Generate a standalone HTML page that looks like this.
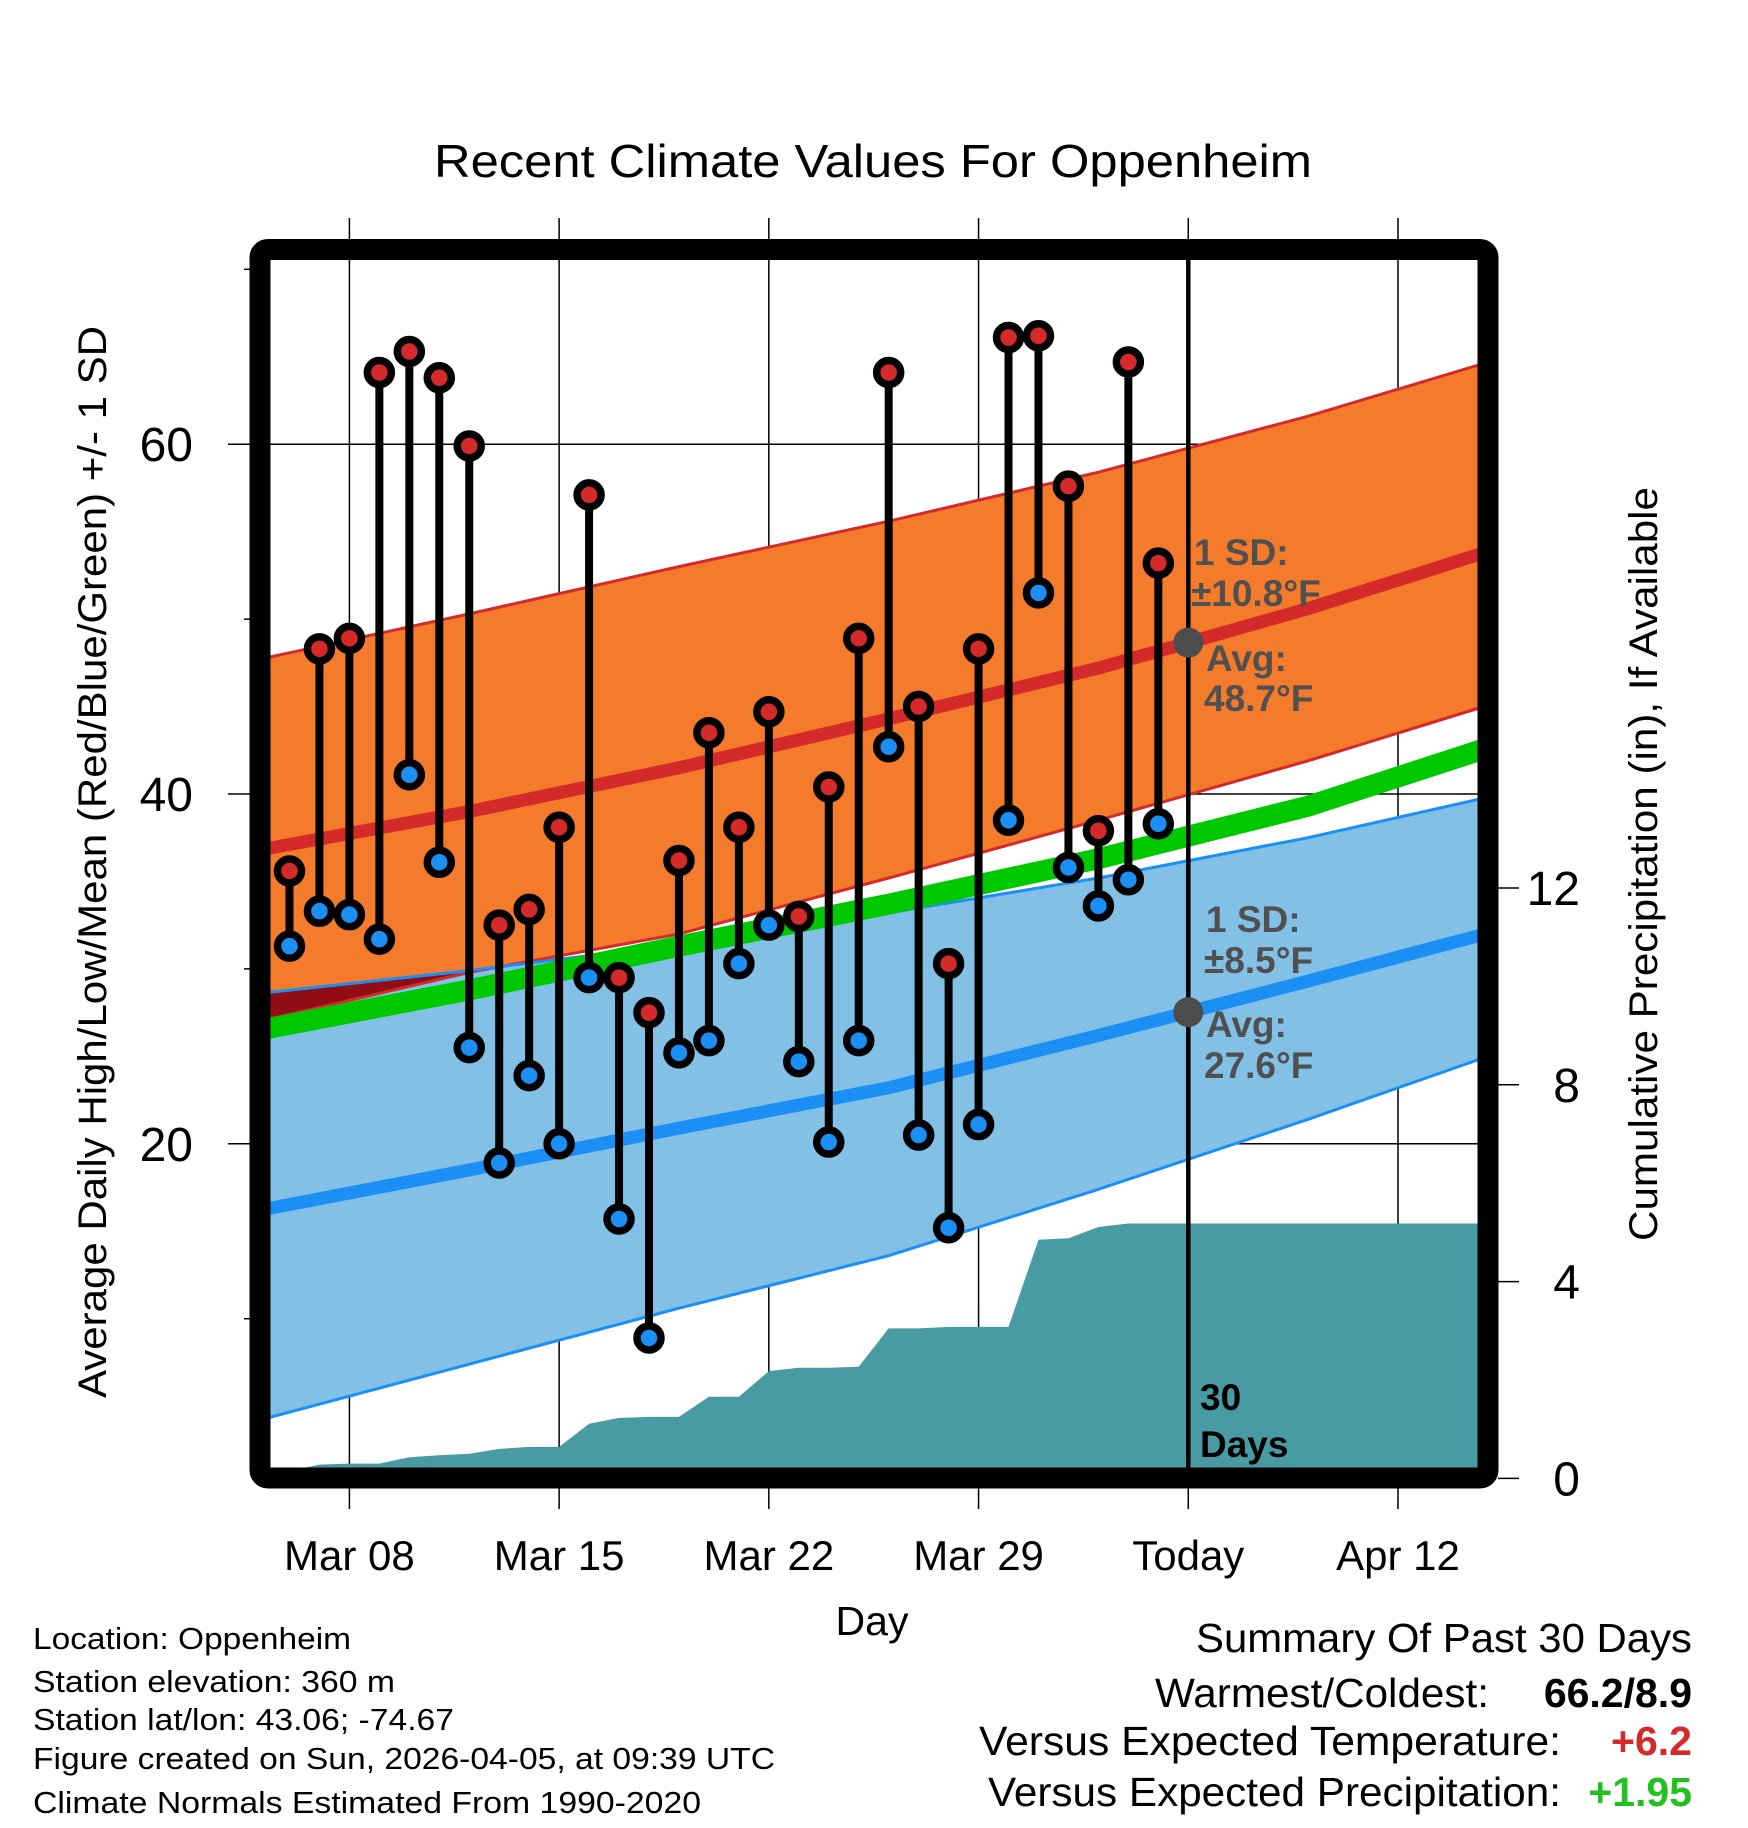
<!DOCTYPE html>
<html><head><meta charset="utf-8"><style>
html,body{margin:0;padding:0;background:#fff;}
svg{display:block;font-family:"Liberation Sans",Arial,sans-serif;}
</style></head><body>
<svg id="chart" width="1748" height="1828" viewBox="0 0 1748 1828">
<defs><clipPath id="plotclip"><rect x="270" y="260" width="1208" height="1208"/></clipPath></defs>
<text x="873" y="177" text-anchor="middle" font-size="46" textLength="878" lengthAdjust="spacingAndGlyphs">Recent Climate Values For Oppenheim</text>
<g id="grid"></g>
<g id="plot" clip-path="url(#plotclip)"></g>
<rect x="260" y="249.5" width="1228" height="1228.5" rx="8" fill="none" stroke="#000" stroke-width="21"/>
<g id="axes"></g>
<text transform="translate(106,862) rotate(-90)" text-anchor="middle" font-size="40" textLength="1072" lengthAdjust="spacingAndGlyphs">Average Daily High/Low/Mean (Red/Blue/Green) +/- 1 SD</text>
<text transform="translate(1657,864) rotate(-90)" text-anchor="middle" font-size="40" textLength="754" lengthAdjust="spacingAndGlyphs">Cumulative Precipitation (in), If Available</text>
<text x="872" y="1635" text-anchor="middle" font-size="41">Day</text>
<g font-size="31">
<text x="33" y="1649" textLength="318" lengthAdjust="spacingAndGlyphs">Location: Oppenheim</text>
<text x="33" y="1692" textLength="362" lengthAdjust="spacingAndGlyphs">Station elevation: 360 m</text>
<text x="33" y="1730" textLength="421" lengthAdjust="spacingAndGlyphs">Station lat/lon: 43.06; -74.67</text>
<text x="33" y="1769" textLength="742" lengthAdjust="spacingAndGlyphs">Figure created on Sun, 2026-04-05, at 09:39 UTC</text>
<text x="33" y="1813" textLength="668" lengthAdjust="spacingAndGlyphs">Climate Normals Estimated From 1990-2020</text>
</g>
<g font-size="41">
<text x="1196" y="1652" textLength="496" lengthAdjust="spacingAndGlyphs">Summary Of Past 30 Days</text>
<text x="1155" y="1707" textLength="334" lengthAdjust="spacingAndGlyphs">Warmest/Coldest:</text>
<text x="1692" y="1707" text-anchor="end" font-weight="bold">66.2/8.9</text>
<text x="979" y="1755" textLength="582" lengthAdjust="spacingAndGlyphs">Versus Expected Temperature:</text>
<text x="1692" y="1755" text-anchor="end" font-weight="bold" fill="#d42a2a">+6.2</text>
<text x="988" y="1806" textLength="573" lengthAdjust="spacingAndGlyphs">Versus Expected Precipitation:</text>
<text x="1692" y="1806" text-anchor="end" font-weight="bold" fill="#22c020">+1.95</text>
</g>
</svg>
<script>
// day offsets relative to Mar 08 (day 0)
const obsDays = [-2,-1,0,1,2,3,4,5,6,7,8,9,10,11,12,13,14,15,16,17,18,19,20,21,22,23,24,25,26,27];
const highs = [35.6,48.3,48.9,64.1,65.3,63.8,59.9,32.5,33.4,38.1,57.1,29.5,27.5,36.2,43.5,38.1,44.7,33.0,40.4,48.9,64.1,45.0,30.3,48.3,66.1,66.2,57.6,37.9,64.7,53.2];
const lows = [31.3,33.3,33.1,31.7,41.1,36.1,25.5,18.9,23.9,20.0,29.5,15.7,8.9,25.2,25.9,30.3,32.5,24.7,20.1,25.9,42.7,20.5,15.2,21.1,38.5,51.5,35.8,33.6,35.1,38.3];
const precip = [0.15,0.28,0.30,0.30,0.43,0.47,0.50,0.60,0.64,0.64,1.11,1.23,1.25,1.25,1.66,1.66,2.18,2.25,2.25,2.27,3.05,3.05,3.08,3.08,3.08,4.85,4.88,5.11,5.18,5.18];
const normDays = [-3,4,11,18,25,32,39];
const highAvg = [36.8,39.0,41.5,44.3,47.2,50.6,54.4];
const highUpper = [47.7,50.3,53.0,55.6,58.4,61.6,65.2];
const highLower = [27.0,29.8,32.0,35.2,38.5,41.9,45.6];
const lowAvg = [16.2,18.5,20.9,23.2,26.2,29.3,32.5];
const lowUpper = [28.6,29.9,31.4,33.2,35.2,37.5,40.2];
const lowLower = [4.2,7.4,10.6,13.6,17.4,21.4,25.6];
const meanLine = [26.5,28.8,31.3,33.7,36.3,39.3,43.2];
const xTickDays = [0,7,14,21,28,35];
const xTickLabels = ["Mar 08","Mar 15","Mar 22","Mar 29","Today","Apr 12"];
const yTicks = [20,40,60];
const yMinor = [10,30,50,70];
const y2Ticks = [0,4,8,12];
const todayDay = 28;

const NS="http://www.w3.org/2000/svg";
const X = d => 349.4 + d*29.96;
const Y = t => 444.2 + (60 - t)*17.49;
const Y2 = p => 1478.4 - p*49.2;
function mk(tag, attrs, parent){const e=document.createElementNS(NS,tag);for(const k in attrs)e.setAttribute(k,attrs[k]);parent.appendChild(e);return e;}
const plot=document.getElementById('plot'), grid=document.getElementById('grid'), axes=document.getElementById('axes');
const pts = arr => normDays.map((d,i)=>X(d).toFixed(1)+','+Y(arr[i]).toFixed(1));
function band(up, lo, fill, name){
  const p = pts(up).concat(pts(lo).reverse()).join(' ');
  const e = mk('polygon',{points:p,fill:fill},plot);
  
  
}
function line(arr, color, w, name){
  const e = mk('polyline',{points:pts(arr).join(' '),fill:'none',stroke:color,'stroke-width':w},plot);
  
  
}
// precipitation area
{
  let p = [X(-3)+','+Y2(0), X(-3)+','+Y2(precip[0])];
  obsDays.forEach((d,i)=>p.push(X(d)+','+Y2(precip[i])));
  p.push(X(40)+','+Y2(precip[precip.length-1]), X(40)+','+Y2(0));
  const e = mk('polygon',{points:p.join(' '),fill:'#489ba3'},plot);
  
  
}
band(highUpper, highLower, '#f47a2c', 'high-sd-band');
band(lowUpper, lowLower, '#82c0e6', 'low-sd-band');
// overlap region
{
  const up=[], lo=[];
  normDays.forEach((d,i)=>{ up.push(Math.max(lowUpper[i],highLower[i])); lo.push(highLower[i]); });
  band(up, lo, '#910f14', 'band-overlap');
}
line(highUpper,'#d42a2a',3,'high-sd-upper-line');
line(highLower,'#d42a2a',3,'high-sd-lower-line');
line(lowUpper,'#1c8ff5',3,'low-sd-upper-line');
line(lowLower,'#1c8ff5',3,'low-sd-lower-line');
line(meanLine,'#00c800',21,'mean-line');
line(highAvg,'#d42a2a',13,'high-avg-line');
line(lowAvg,'#1c8ff5',13,'low-avg-line');
// gridlines
yTicks.forEach(t=>{
  const e=mk('line',{x1:228,x2:1478,y1:Y(t),y2:Y(t),stroke:'#000','stroke-width':1.5},grid);
  
  
  const l=mk('text',{x:193,y:Y(t)+17,'text-anchor':'end','font-size':48},axes); l.textContent=t;
  
  
});
yMinor.forEach(t=>{
  const e=mk('line',{x1:244,x2:252,y1:Y(t),y2:Y(t),stroke:'#000','stroke-width':1.5},grid);
  
  
});
xTickDays.forEach((d,i)=>{
  const e=mk('line',{x1:X(d),x2:X(d),y1:218,y2:1509,stroke:'#000','stroke-width':1.5},grid);
  
  
  const l=mk('text',{x:X(d),y:1570,'text-anchor':'middle','font-size':42},axes); l.textContent=xTickLabels[i];
  
  
});
y2Ticks.forEach(p=>{
  const e=mk('line',{x1:1498,x2:1519,y1:Y2(p),y2:Y2(p),stroke:'#000','stroke-width':1.5},axes);
  
  
  const l=mk('text',{x:1580,y:Y2(p)+17,'text-anchor':'end','font-size':48},axes); l.textContent=p;
  
  
});
// today line
{
  const e=mk('line',{x1:X(todayDay),x2:X(todayDay),y1:260,y2:1468,stroke:'#000','stroke-width':4.5},plot);
  
  
}
// stems and points
obsDays.forEach((d,i)=>{
  const g=mk('g',{},plot);
  
  
  mk('line',{x1:X(d),x2:X(d),y1:Y(highs[i]),y2:Y(lows[i]),stroke:'#000','stroke-width':8},g);
  const lo=mk('circle',{cx:X(d),cy:Y(lows[i]),r:12,fill:'#1c8ff5',stroke:'#000','stroke-width':7.5},g);
  
  
  const hi=mk('circle',{cx:X(d),cy:Y(highs[i]),r:12,fill:'#d42a2a',stroke:'#000','stroke-width':7.5},g);
  
  
});
// today avg markers
function interp(arr,d){for(let i=0;i<normDays.length-1;i++){if(d>=normDays[i]&&d<=normDays[i+1]){const f=(d-normDays[i])/(normDays[i+1]-normDays[i]);return arr[i]+f*(arr[i+1]-arr[i]);}}return arr[arr.length-1];}
[[highAvg,'today-high-avg-marker'],[lowAvg,'today-low-avg-marker']].forEach(([arr,n])=>{
  const c=mk('circle',{cx:X(todayDay),cy:Y(interp(arr,todayDay)),r:15,fill:'#4d4d4d'},plot);
  
  
});
// annotations
const ann=[["1 SD:",1194,565,'#505050'],["±10.8°F",1191,606,'#505050'],["Avg:",1206,671,'#505050'],["48.7°F",1204,711,'#505050'],
["1 SD:",1206,932,'#505050'],["±8.5°F",1204,973,'#505050'],["Avg:",1206,1037,'#505050'],["27.6°F",1204,1078,'#505050'],
["30",1200,1410,'#000'],["Days",1200,1457,'#000']];
ann.forEach(a=>{
  const t=mk('text',{x:a[1],y:a[2],'font-size':37,'font-weight':'bold',fill:a[3]},plot); t.textContent=a[0];
  
  
});
</script>
</body></html>
